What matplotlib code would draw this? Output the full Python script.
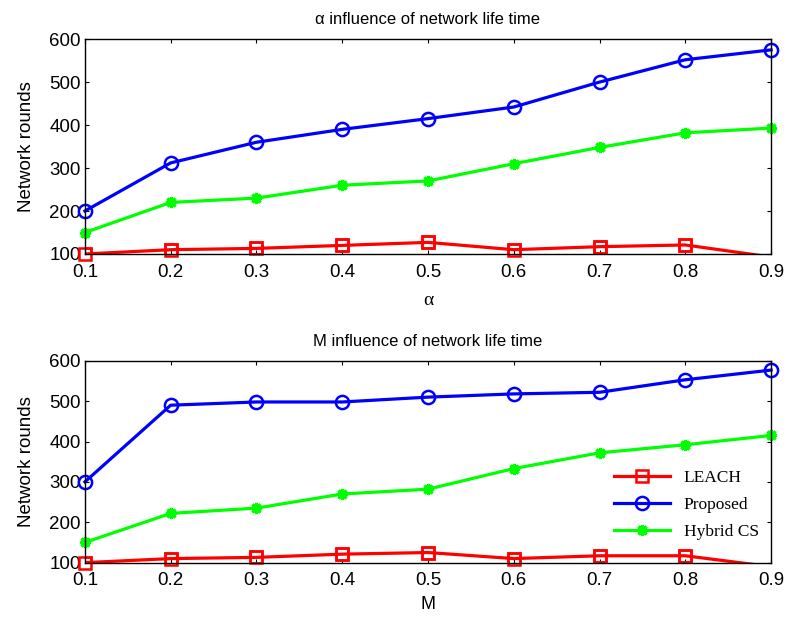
import numpy as np
import matplotlib.pyplot as plt

plt.rcParams['font.family'] = ['Liberation Sans', 'DejaVu Sans']

x = [0.1, 0.2, 0.3, 0.4, 0.5, 0.6, 0.7, 0.8, 0.9]

# alpha influence
leach_a = [100, 110, 113, 120, 127, 110, 117, 121, 93]
proposed_a = [200, 312, 360, 390, 415, 442, 500, 552, 575]
hybrid_a = [150, 220, 230, 260, 270, 310, 348, 382, 393]

# M influence
leach_m = [100, 110, 113, 121, 125, 110, 117, 117, 90]
proposed_m = [300, 490, 498, 498, 510, 518, 522, 553, 577]
hybrid_m = [150, 222, 235, 270, 282, 333, 372, 392, 415]

fig = plt.figure(figsize=(7.86, 6.21), dpi=100)
ax1 = fig.add_axes([0.108, 0.591, 0.873, 0.346])
ax2 = fig.add_axes([0.108, 0.094, 0.873, 0.325])


def draw(ax, leach, proposed, hybrid, title, xlabel):
    sq = dict(marker='s', markersize=9, markerfacecolor='none', markeredgewidth=1.8)
    ax.plot(x, leach, color='red', linewidth=2.3, markevery=slice(0, 8),
            label='LEACH', **sq)
    # markers of the in-range points are not cut by the axes box (as in MATLAB)
    ax.plot(x[:8], leach[:8], color='red', linestyle='none', clip_on=False, **sq)
    ax.plot(x, proposed, color='blue', marker='o', markersize=9.5, markerfacecolor='none',
            markeredgewidth=1.8, linewidth=2.3, clip_on=False, label='Proposed')
    ax.plot(x, hybrid, color='#00ff00', marker=(8, 2, 0), markersize=8,
            markeredgewidth=2.2, linewidth=2.3, clip_on=False, label='Hybrid CS')
    ax.set_xlim(0.1, 0.9)
    ax.set_ylim(100, 600)
    ax.set_xticks(x)
    ax.set_xticklabels([f'{v:.1f}' for v in x])
    ax.set_yticks([100, 200, 300, 400, 500, 600])
    ax.tick_params(direction='in', top=True, right=True, labelsize=13.5, length=3, pad=3)
    ax.tick_params(axis='x', pad=7)
    for s in ax.spines.values():
        s.set_linewidth(1.0)
    ax.set_title(title, fontsize=12, pad=11)
    ax.set_ylabel('Network rounds', fontsize=13.5, labelpad=10)
    ax.set_xlabel(xlabel, fontsize=14, labelpad=8)


draw(ax1, leach_a, proposed_a, hybrid_a, 'α influence of network life time', 'α')
ax1.xaxis.label.set_family(['Liberation Serif'])
draw(ax2, leach_m, proposed_m, hybrid_m, 'M influence of network life time', 'M')
ax2.xaxis.label.set_fontsize(13)
ax2.xaxis.labelpad = 5

ax2.legend(loc='lower right', bbox_to_anchor=(1.005, 0.035), frameon=False,
           prop={'family': 'Liberation Serif', 'size': 12.5}, handlelength=3.2,
           labelspacing=0.62)

fig.savefig('out.png', dpi=100)
